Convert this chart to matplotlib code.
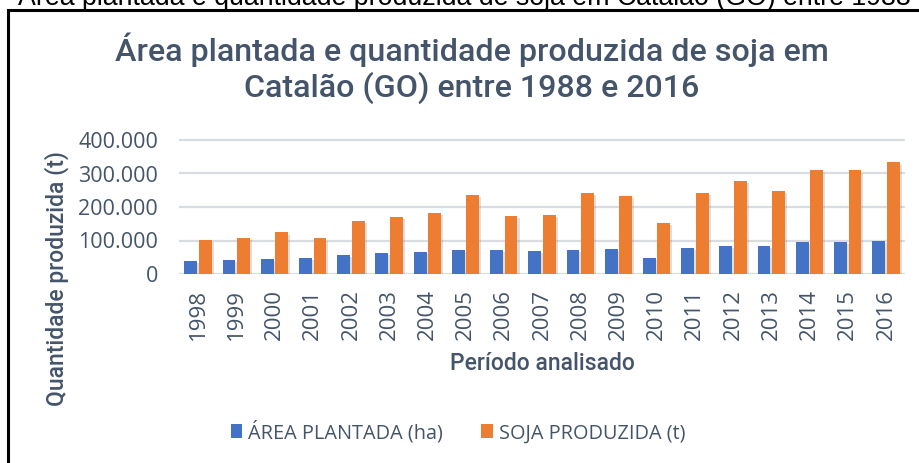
import matplotlib
matplotlib.use("Agg")
import matplotlib.pyplot as plt
from matplotlib.patches import Rectangle, Patch
from matplotlib.ticker import FuncFormatter
import matplotlib.patheffects as pe
import numpy as np

anos = ["1998", "1999", "2000", "2001", "2002", "2003", "2004", "2005", "2006", "2007",
        "2008", "2009", "2010", "2011", "2012", "2013", "2014", "2015", "2016"]
area_plantada = [38000, 41000, 44000, 47000, 57000, 63000, 66000, 72000, 71000, 69000,
                 72000, 74000, 47000, 78000, 84000, 83000, 97000, 96000, 98000]
soja_produzida = [101000, 108000, 124000, 106000, 157000, 171000, 183000, 235000, 174000, 176000,
                  242000, 232000, 153000, 241000, 277000, 247000, 309000, 309000, 333000]
y_ticks = [0, 100000, 200000, 300000, 400000]

TXT = "#44546A"
BLUE = "#4472C4"
ORANGE = "#ED7D31"
GRID = "#D9DCE1"
TICKFONT = ["Open Sans", "DejaVu Sans"]
HEADFONT = ["Roboto", "DejaVu Sans"]

W, H = 920, 463
fig = plt.figure(figsize=(W / 100, H / 100), dpi=100)
fig.patch.set_facecolor("white")

# outer frame (clipped by figure edge on right/bottom)
fig.patches.append(Rectangle((8 / W, -0.1), 1.2, 1 - 10.5 / H + 0.1, transform=fig.transFigure,
                             fill=False, edgecolor="black", linewidth=2.2, zorder=10))
# cut-off caption at top
fig.text(18 / W, 1 - 5 / H, "Área plantada e quantidade produzida de soja em Catalão (GO) entre 1988 e 2016",
         fontsize=19.3, family=["Liberation Sans"], color="black", ha="left", va="baseline")

left, right = 179 / W, 905 / W
bottom = 1 - 274 / H
ymax = 405000
height_px = 134 * ymax / 400000
ax = fig.add_axes([left, bottom, right - left, height_px / H])

x = np.arange(len(anos))
w = 0.335
off = 0.19
shadow = [pe.SimplePatchShadow(offset=(1.5, -1.5), shadow_rgbFace="#808080", alpha=0.25), pe.Normal()]
b1 = ax.bar(x - off, area_plantada, width=w, color=BLUE, zorder=3)
b2 = ax.bar(x + off, soja_produzida, width=w, color=ORANGE, zorder=3)
for p in list(b1) + list(b2):
    p.set_path_effects(shadow)

ax.set_xlim(-0.5, len(anos) - 0.5)
ax.set_ylim(0, ymax)
ax.set_yticks(y_ticks)
ax.yaxis.set_major_formatter(FuncFormatter(lambda v, p: "0" if v == 0 else f"{int(v):,}".replace(",", ".")))
ax.set_xticks(x)
ax.set_xticklabels(anos, rotation=90)
for s in ax.spines.values():
    s.set_visible(False)
ax.grid(axis="y", color=GRID, linewidth=1.6, zorder=0)
ax.tick_params(axis="both", length=0, colors=TXT)
ax.tick_params(axis="y", pad=15, labelsize=15.5)
ax.tick_params(axis="x", pad=11, labelsize=16)
for lab in ax.get_xticklabels() + ax.get_yticklabels():
    lab.set_family(TICKFONT)

fig.text(472 / W, 1 - 50 / H, "Área plantada e quantidade produzida de soja em",
         ha="center", va="center", fontsize=23.2, family=HEADFONT, weight="medium", color=TXT)
fig.text(472 / W, 1 - 88 / H, "Catalão (GO) entre 1988 e 2016",
         ha="center", va="center", fontsize=23.2, family=HEADFONT, weight="medium", color=TXT)

fig.text(57 / W, 1 - 279 / H, "Quantidade produzida (t)", rotation=90, ha="center", va="center",
         fontsize=16.5, family=HEADFONT, weight="medium", color=TXT)
fig.text(542 / W, 1 - 364 / H, "Período analisado", ha="center", va="center",
         fontsize=16.5, family=HEADFONT, weight="medium", color=TXT)

handles = [Patch(facecolor=BLUE), Patch(facecolor=ORANGE)]
leg = fig.legend(handles, ["ÁREA PLANTADA (ha)", "SOJA PRODUZIDA (t)"], loc="center",
                 bbox_to_anchor=(458 / W, 1 - 432 / H), ncol=2, frameon=False,
                 handlelength=0.6, handleheight=0.7, handletextpad=0.3, columnspacing=1.9,
                 prop={"family": TICKFONT, "size": 14.3})
for t in leg.get_texts():
    t.set_color(TXT)

fig.savefig("out.png", dpi=100, facecolor="white")
